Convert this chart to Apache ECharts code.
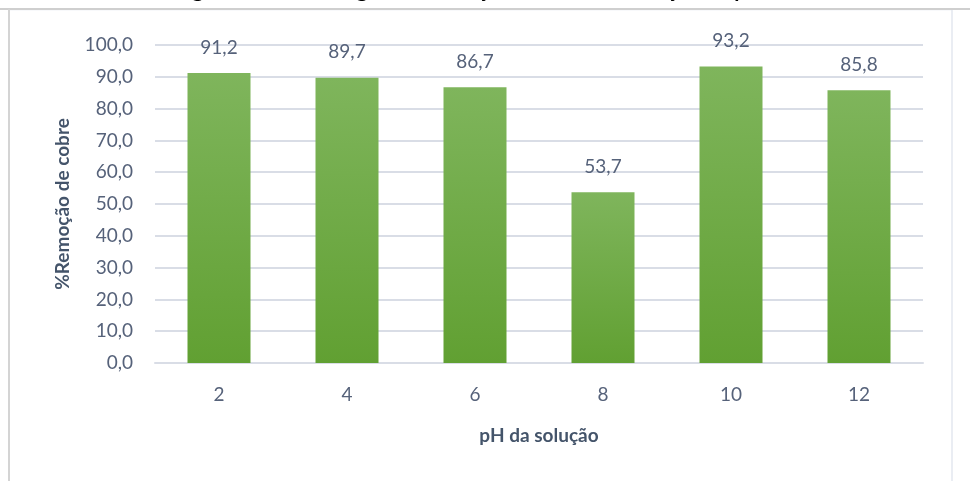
<!DOCTYPE html>
<html>
<head>
<meta charset="utf-8">
<style>
  html, body { margin: 0; padding: 0; background: #ffffff; }
  #chart { width: 970px; height: 481px; }
</style>
<script src="https://cdn.jsdelivr.net/npm/echarts@6/dist/echarts.min.js"></script>
</head>
<body>
<div id="chart"></div>
<script>
// pH values tested and the copper removal obtained at each one
const phValues = ['2', '4', '6', '8', '10', '12'];
const removal = [91.2, 89.7, 86.7, 53.7, 93.2, 85.8];
const yTicks = { min: 0, max: 100, step: 10 };

const fmt = v => v.toFixed(1).replace('.', ',');
const textColor = '#56627a';
const fontFamily = 'Lato, "Open Sans", sans-serif';

const chart = echarts.init(document.getElementById('chart'));
chart.setOption({
  animation: false,
  backgroundColor: '#ffffff',
  graphic: [
    // caption above the frame, cut off at the page edge
    {
      type: 'text', silent: true, x: 175, y: 1,
      style: {
        text: 'Figura 3 – Porcentagem de remoção de cobre em função do pH',
        font: 'bold 21px ' + fontFamily, fill: '#000000',
        verticalAlign: 'bottom'
      }
    },
    // chart frame
    {
      type: 'rect', silent: true, z: -1,
      shape: { x: 9, y: 9.5, width: 943, height: 480 },
      style: { fill: '#ffffff', stroke: '#e3e8ef', lineWidth: 1.5 }
    },
    {
      type: 'line', silent: true,
      shape: { x1: 0, y1: 9, x2: 970, y2: 9 },
      style: { stroke: '#cfcfcf', lineWidth: 2 }
    },
    {
      type: 'line', silent: true,
      shape: { x1: 9, y1: 9, x2: 9, y2: 481 },
      style: { stroke: '#d4d4d4', lineWidth: 2 }
    }
  ],
  grid: { left: 155, right: 47, top: 45, bottom: 118, containLabel: false },
  xAxis: {
    type: 'category',
    data: phValues,
    name: 'pH da solução',
    nameLocation: 'middle',
    nameGap: 63,
    nameTextStyle: { fontSize: 19, fontWeight: 'bold', color: '#44546a', fontFamily },
    axisLine: { show: true, lineStyle: { color: '#d9dde6', width: 2 } },
    axisTick: { show: false },
    axisLabel: { margin: 22, fontSize: 19, color: textColor, fontFamily }
  },
  yAxis: {
    type: 'value',
    min: yTicks.min,
    max: yTicks.max,
    interval: yTicks.step,
    name: '%Remoção de cobre',
    nameLocation: 'middle',
    nameRotate: 90,
    nameGap: 83,
    nameTextStyle: { fontSize: 19, fontWeight: 'bold', color: '#44546a', fontFamily },
    axisLine: { show: false },
    axisTick: { show: false },
    splitLine: { lineStyle: { color: '#d9dde6', width: 2 } },
    axisLabel: { margin: 22, fontSize: 19, color: textColor, fontFamily, formatter: v => fmt(v) }
  },
  series: [{
    type: 'bar',
    data: removal,
    barWidth: 63,
    itemStyle: {
      color: new echarts.graphic.LinearGradient(0, 0, 0, 1, [
        { offset: 0, color: '#7fb55c' },
        { offset: 1, color: '#61a032' }
      ])
    },
    label: {
      show: true, position: 'top', distance: 16,
      fontSize: 19, color: textColor, fontFamily,
      formatter: p => fmt(p.value)
    }
  }]
});
</script>
</body>
</html>
